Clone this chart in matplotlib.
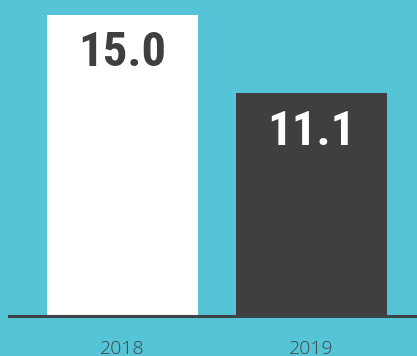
import matplotlib.pyplot as plt

# chart values
years = ["2018", "2019"]
values = [15.0, 11.1]
bar_colors = ["#ffffff", "#3f3f3f"]
label_colors = ["#3f3f3f", "#ffffff"]

BG = "#54c4d6"

fig = plt.figure(figsize=(4.17, 3.56), dpi=100, facecolor=BG)
ax = fig.add_axes([0, 0, 1, 1])
ax.set_facecolor(BG)

x = list(range(len(years)))
ax.bar(x, values, width=0.8, color=bar_colors, zorder=2)

# baseline
ax.axhline(0, xmin=9 / 417, xmax=1, color="#3d4448", linewidth=2.2, zorder=3)

for xi, v, c in zip(x, values, label_colors):
    ax.text(xi, v - 1.92, f"{v:.1f}", ha="center", va="center",
            color=c, fontsize=35, fontweight="bold",
            family=["Roboto Condensed", "Roboto"], zorder=4)

for xi, yr in zip(x, years):
    ax.text(xi, -1.2, yr, ha="center", va="top", color="#3f4548",
            fontsize=14, fontweight="light", family=["Open Sans", "DejaVu Sans"])

ax.set_xlim(-0.648, 1.558)
ax.set_ylim(-1.993, 15.745)
ax.axis("off")

fig.savefig("out.png", dpi=100, facecolor=BG)
